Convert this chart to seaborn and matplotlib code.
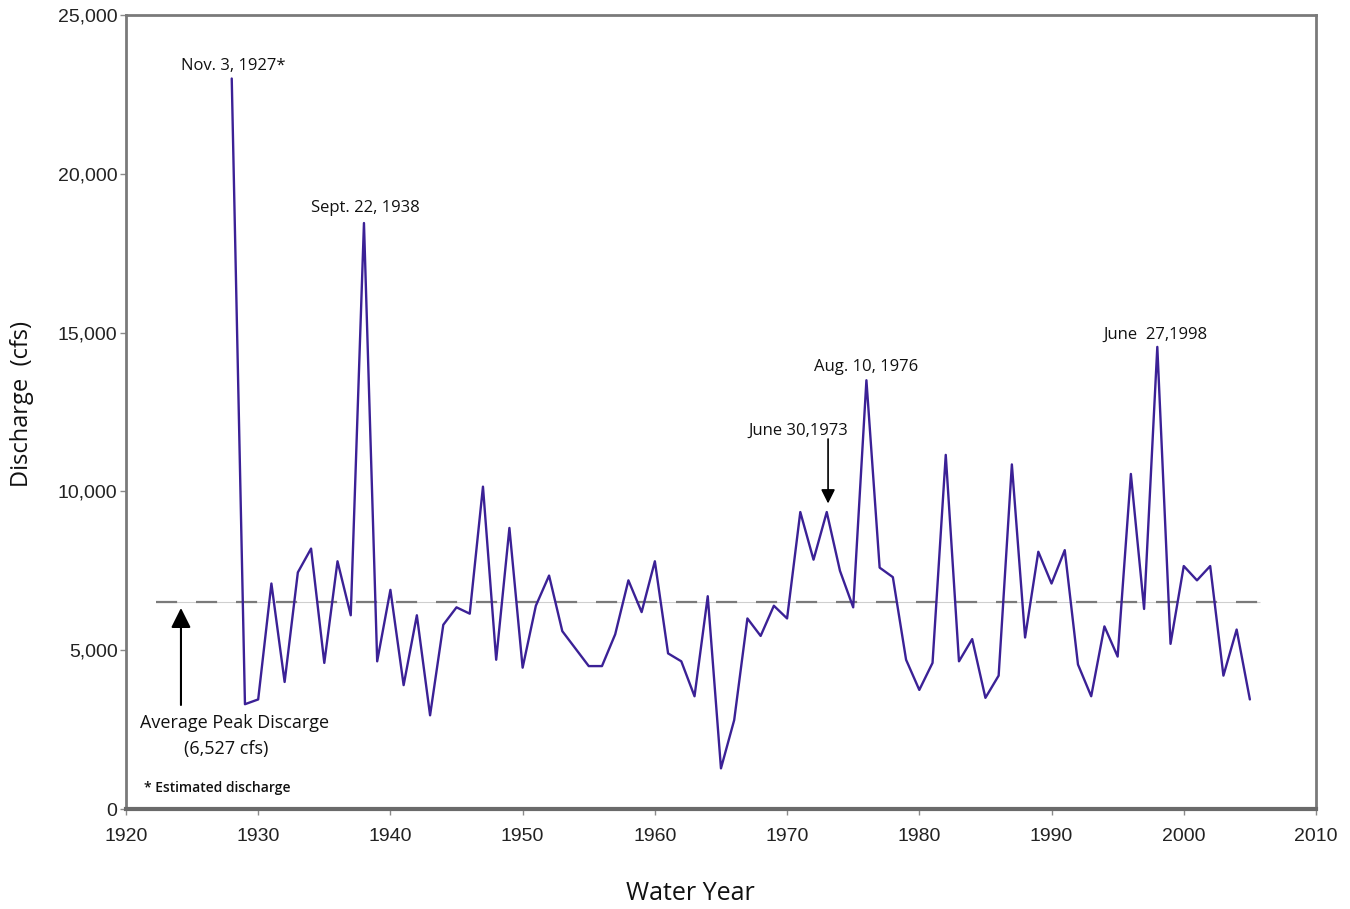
import matplotlib
matplotlib.use("Agg")
import matplotlib.pyplot as plt
import matplotlib.ticker as mticker
import numpy as np
import pandas as pd
import seaborn as sns

# Annual peak discharge by water year
years = list(range(1928, 2006))
peak_cfs = [
    23000, 3300, 3450, 7100, 4000, 7450, 8200, 4600, 7800, 6100,   # 1928-1937
    18450, 4650, 6900, 3900, 6100, 2950, 5800, 6350, 6150, 10150,  # 1938-1947
    4700, 8850, 4450, 6400, 7350, 5600, 5050, 4500, 4500, 5500,    # 1948-1957
    7200, 6200, 7800, 4900, 4650, 3550, 6700, 1280, 2800, 6000,    # 1958-1967
    5450, 6400, 6000, 9350, 7850, 9350, 7500, 6350, 13500, 7600,   # 1968-1977
    7300, 4700, 3750, 4600, 11150, 4650, 5350, 3500, 4200, 10850,  # 1978-1987
    5400, 8100, 7100, 8150, 4550, 3550, 5750, 4800, 10550, 6300,   # 1988-1997
    14550, 5200, 7650, 7200, 7650, 4200, 5650, 3450,               # 1998-2005
]
average_peak = 6527

# Labelled flood events: (text, x, y)
event_labels = ["Nov. 3, 1927*", "Sept. 22, 1938", "Aug. 10, 1976", "June  27,1998"]
event_x = [1928.1, 1938.1, 1975.95, 1997.85]
event_y = [23400, 18920, 13930, 14930]

x_ticks = list(range(1920, 2011, 10))
y_ticks = [0, 5000, 10000, 15000, 20000, 25000]

df = pd.DataFrame({"Water Year": years, "Discharge": peak_cfs})

sns.set_theme(style="white")
plt.rcParams["font.family"] = ["Open Sans", "DejaVu Sans"]

fig = plt.figure(figsize=(13.5, 9.09), dpi=100)
ax = fig.add_axes([0.0933, 0.110, 0.8815, 0.8735])

# Average line: thin light rule with grey dashes on top
ax.hlines(average_peak, 1922.3, 2005.8, color="#cfcfcf", lw=0.8, zorder=1)
ax.hlines(average_peak, 1922.3, 2005.8, color="#7a7a7a", lw=1.6,
          linestyles=(0, (9.5, 8.5)), zorder=1)

sns.lineplot(data=df, x="Water Year", y="Discharge", ax=ax,
             color="#3b2196", lw=1.7, zorder=3)

ax.set_xlim(1920, 2010)
ax.set_ylim(0, 25000)
ax.set_xticks(x_ticks)
ax.set_yticks(y_ticks)
ax.yaxis.set_major_formatter(mticker.FuncFormatter(lambda v, p: f"{int(v):,}"))

tick_family = ["Liberation Sans", "DejaVu Sans"]
for lab in ax.get_xticklabels() + ax.get_yticklabels():
    lab.set_fontfamily(tick_family)
    lab.set_fontsize(14)
    lab.set_color("#222222")

ax.tick_params(axis="both", which="major", direction="out", length=4,
               width=1, color="#8a8a8a", bottom=True, left=True)
ax.tick_params(axis="x", pad=10)
ax.tick_params(axis="y", pad=2)

for side in ["left", "right", "top"]:
    ax.spines[side].set_color("#7a7a7a")
    ax.spines[side].set_linewidth(2.0)
ax.spines["bottom"].set_color("#6a6a6a")
ax.spines["bottom"].set_linewidth(3.0)

ax.set_xlabel("Water Year", fontsize=18, color="#111111", va="center")
ax.xaxis.set_label_coords(0.474, -0.106)
ax.set_ylabel("Discharge  (cfs)", fontsize=17, color="#111111", va="center")
ax.yaxis.set_label_coords(-0.0874, 0.51)

for text, x, y in zip(event_labels, event_x, event_y):
    ax.text(x, y, text, ha="center", va="center", fontsize=12, color="#111111")

# 1973 event with a vertical pointer
ax.text(1970.85, 11910, "June 30,1973", ha="center", va="center",
        fontsize=12, color="#111111")
ax.annotate("", xy=(1973.1, 9620), xytext=(1973.1, 11650),
            arrowprops=dict(arrowstyle="-|>,head_length=0.7,head_width=0.35",
                            color="black", lw=1.2, shrinkA=0, shrinkB=0))

# Average peak discharge callout
ax.annotate("", xy=(1924.16, 6330), xytext=(1924.16, 3275),
            arrowprops=dict(arrowstyle="-|>,head_length=1.0,head_width=0.5",
                            color="black", lw=1.5, shrinkA=0, shrinkB=0))
ax.text(1928.25, 2710, "Average Peak Discarge", ha="center", va="center",
        fontsize=13, color="#111111")
ax.text(1927.6, 1890, "(6,527 cfs)", ha="center", va="center",
        fontsize=13, color="#111111")
ax.text(1921.4, 660, "* Estimated discharge", ha="left", va="center",
        fontsize=10, fontweight="semibold", color="#111111")

fig.savefig("out.png", dpi=100, facecolor="white")
